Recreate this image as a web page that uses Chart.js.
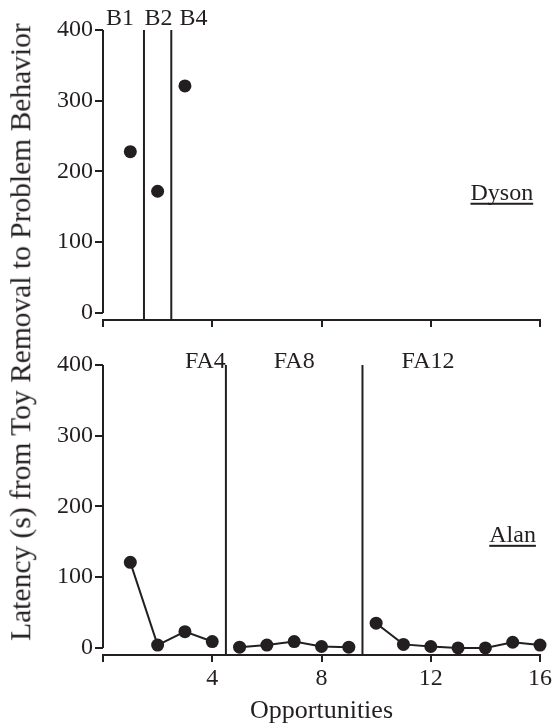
<!DOCTYPE html>
<html>
<head>
<meta charset="utf-8">
<title>Latency from Toy Removal to Problem Behavior</title>
<script src="https://cdn.jsdelivr.net/npm/chart.js@4.4.0/dist/chart.umd.min.js"></script>
<style>
  body { margin: 0; background: #fff; }
  #wrap { position: relative; width: 558px; height: 727px; overflow: hidden; }
  #wrap canvas { position: absolute; left: 0; }
  #dyson { top: 0; }
  #alan { top: 340px; }
  #yTitle {
    position: absolute; left: 21px; top: 332px; width: max-content;
    transform: translate(-50%, -50%) rotate(-90deg);
    font: 29.5px "Liberation Serif", serif; line-height: 1;
    white-space: nowrap; color: #231f20;
  }
</style>
</head>
<body>
<div id="wrap">
  <canvas id="dyson" width="558" height="340"></canvas>
  <canvas id="alan" width="558" height="387"></canvas>
  <div id="yTitle">Latency (s) from Toy Removal to Problem Behavior</div>
</div>
<script>
// Dyson - baseline conditions
const dysonX = [1, 2, 3];
const dysonLatency = [228, 172, 321];
const dysonPhases = ["B1", "B2", "B4"];
const dysonPhaseLines = [1.5, 2.5];

// Alan - FA4, FA8, FA12 phases
const fa4X = [1, 2, 3, 4];
const fa4Latency = [121, 4, 23, 9];
const fa8X = [5, 6, 7, 8, 9];
const fa8Latency = [1, 4, 9, 2, 1];
const fa12X = [10, 11, 12, 13, 14, 15, 16];
const fa12Latency = [35, 5, 2, 0, 0, 8, 4];
const alanPhases = ["FA4", "FA8", "FA12"];
const alanPhaseLines = [4.5, 9.5];

const yTicks = [0, 100, 200, 300, 400];
const xTicks = [0, 4, 8, 12, 16];

const ink = "#231f20";
const serif = "Liberation Serif";

function points(xs, ys) {
    return xs.map((x, i) => ({ x: x, y: ys[i] }));
}

// phase lines, phase names, participant name, and the short y axis line
const phasePlugin = {
    id: "phases",
    afterDraw(chart, args, opts) {
        const { ctx, chartArea } = chart;
        const x = chart.scales.x, y = chart.scales.y;
        ctx.save();
        ctx.strokeStyle = ink;
        ctx.lineWidth = 2;

        ctx.beginPath();
        ctx.moveTo(chartArea.left, y.getPixelForValue(0));
        ctx.lineTo(chartArea.left, y.getPixelForValue(400));
        ctx.stroke();

        opts.lines.forEach(v => {
            const px = x.getPixelForValue(v);
            ctx.beginPath();
            ctx.moveTo(px, y.getPixelForValue(400));
            ctx.lineTo(px, chartArea.bottom);
            ctx.stroke();
        });

        ctx.fillStyle = ink;
        ctx.font = "24px '" + serif + "'";
        ctx.textAlign = "center";
        ctx.textBaseline = "alphabetic";
        opts.names.forEach((name, i) => {
            ctx.fillText(name, x.getPixelForValue(opts.nameAt[i]), y.getPixelForValue(400) + opts.nameDy);
        });

        // underlined participant name
        ctx.textAlign = "right";
        const lx = x.getPixelForValue(opts.who.x);
        const ly = y.getPixelForValue(opts.who.y);
        ctx.fillText(opts.who.text, lx, ly);
        const w = ctx.measureText(opts.who.text).width;
        ctx.fillRect(lx - w, ly + 3, w, 2);
        ctx.restore();
    }
};

function makeOptions(cfg) {
    return {
        responsive: false,
        animation: false,
        layout: { padding: { left: 0, right: 18, top: cfg.top, bottom: 0 } },
        plugins: {
            legend: { display: false },
            tooltip: { enabled: false },
            phases: cfg.phases
        },
        scales: {
            x: {
                type: "linear",
                min: 0,
                max: 16,
                afterBuildTicks: s => { s.ticks = xTicks.map(v => ({ value: v })); },
                afterFit: s => { s.height = cfg.xHeight; },
                border: { color: ink, width: 2 },
                grid: { drawOnChartArea: false, tickLength: 7, color: ink, lineWidth: 2 },
                ticks: {
                    autoSkip: false,
                    maxRotation: 0,
                    padding: 2,
                    color: ink,
                    font: { family: serif, size: 24 },
                    callback: cfg.xLabel
                },
                title: cfg.xTitle
            },
            y: {
                min: -10,
                max: 400,
                afterBuildTicks: s => { s.ticks = yTicks.map(v => ({ value: v })); },
                afterFit: s => { s.width = 103; },
                border: { display: false },
                grid: { drawOnChartArea: false, tickLength: 8, color: ink, lineWidth: 2 },
                ticks: { padding: 2, color: ink, font: { family: serif, size: 24 } }
            }
        }
    };
}

const markStyle = {
    borderColor: ink,
    borderWidth: 2,
    pointRadius: 6.5,
    pointBackgroundColor: ink,
    pointBorderWidth: 0,
    clip: false
};

new Chart(document.getElementById("dyson").getContext("2d"), {
    type: "scatter",
    data: {
        datasets: [Object.assign({ data: points(dysonX, dysonLatency), showLine: false }, markStyle)]
    },
    options: makeOptions({
        top: 30,
        xHeight: 20,
        xLabel: () => "",
        xTitle: { display: false },
        phases: {
            lines: dysonPhaseLines,
            names: dysonPhases,
            nameAt: [0.62, 2.03, 3.31],
            nameDy: -5,
            who: { text: "Dyson", x: 15.75, y: 160 }
        }
    }),
    plugins: [phasePlugin]
});

new Chart(document.getElementById("alan").getContext("2d"), {
    type: "scatter",
    data: {
        datasets: [
            Object.assign({ data: points(fa4X, fa4Latency), showLine: true }, markStyle),
            Object.assign({ data: points(fa8X, fa8Latency), showLine: true }, markStyle),
            Object.assign({ data: points(fa12X, fa12Latency), showLine: true }, markStyle)
        ]
    },
    options: makeOptions({
        top: 25,
        xHeight: 72,
        xLabel: v => (v === 0 ? "" : v),
        xTitle: {
            display: true,
            text: "Opportunities",
            color: ink,
            font: { family: serif, size: 26 },
            padding: { top: 0, bottom: 0 }
        },
        phases: {
            lines: alanPhaseLines,
            names: alanPhases,
            nameAt: [3.75, 7, 11.9],
            nameDy: 3,
            who: { text: "Alan", x: 15.85, y: 150 }
        }
    }),
    plugins: [phasePlugin]
});
</script>
</body>
</html>
